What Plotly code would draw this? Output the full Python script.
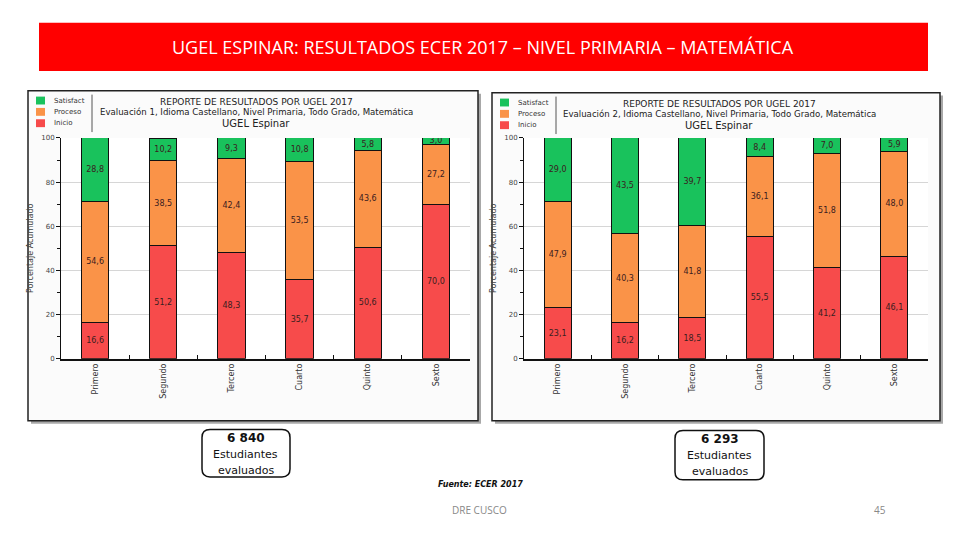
import plotly.graph_objects as go

grados = ["Primero", "Segundo", "Tercero", "Cuarto", "Quinto", "Sexto"]

# Evaluación 1
e1_inicio = [16.6, 51.2, 48.3, 35.7, 50.6, 70.0]
e1_proceso = [54.6, 38.5, 42.4, 53.5, 43.6, 27.2]
e1_satisf = [28.8, 10.2, 9.3, 10.8, 5.8, 3.0]

# Evaluación 2
e2_inicio = [23.1, 16.2, 18.5, 55.5, 41.2, 46.1]
e2_proceso = [47.9, 40.3, 41.8, 36.1, 51.8, 48.0]
e2_satisf = [29.0, 43.5, 39.7, 8.4, 7.0, 5.9]

series_names = ["Inicio", "Proceso", "Satisfactorio"]
legend_labels = ["Satisfact", "Proceso", "Inicio"]
colors = {"Inicio": "#f74b4b", "Proceso": "#fa9348", "Satisfactorio": "#19c25c"}

W, H = 960, 540


def px(x):
    return x / W


def py(y):
    return 1 - y / H


def fmt(v):
    return f"{v:.1f}".replace(".", ",")


def ann(x, y, text, size, color="#222", family="DejaVu Sans", xanchor="center"):
    return dict(xref="paper", yref="paper", x=px(x), y=py(y), text=text, showarrow=False,
                xanchor=xanchor, yanchor="middle",
                font=dict(family=family, size=size, color=color))


fig = go.Figure()

panels = [
    dict(xa="x", ya="y", data=[e1_inicio, e1_proceso, e1_satisf],
         dom_x=[61, 470], left=28, right=478, top=88, eval_n=1, cx=256),
    dict(xa="x2", ya="y2", data=[e2_inicio, e2_proceso, e2_satisf],
         dom_x=[524, 928], left=492, right=940, top=90, eval_n=2, cx=719),
]

shapes = []
annotations = []

# Title banner
shapes.append(dict(type="rect", xref="paper", yref="paper",
                   x0=px(39), x1=px(928), y0=py(68), y1=py(19),
                   fillcolor="#ff0000", line=dict(width=0), layer="below"))
annotations.append(ann(483, 44, "UGEL ESPINAR: RESULTADOS ECER 2017 – NIVEL PRIMARIA – MATEMÁTICA",
                       18, "white", "Open Sans"))

for p in panels:
    # shadow + panel
    shapes.append(dict(type="rect", xref="paper", yref="paper",
                       x0=px(p["left"] + 3), x1=px(p["right"] + 3),
                       y0=py(426), y1=py(p["top"] + 3),
                       fillcolor="#a8a8a8", line=dict(width=0), layer="below"))
    shapes.append(dict(type="rect", xref="paper", yref="paper",
                       x0=px(p["left"]), x1=px(p["right"]),
                       y0=py(423), y1=py(p["top"]),
                       fillcolor="#fbfbfb", line=dict(color="#222", width=1.5), layer="below"))
    # plot bg
    shapes.append(dict(type="rect", xref="paper", yref="paper",
                       x0=px(p["dom_x"][0]), x1=px(p["dom_x"][1]),
                       y0=py(360), y1=py(136),
                       fillcolor="white", line=dict(width=0), layer="below"))
    for name, vals in zip(series_names, p["data"]):
        fig.add_trace(go.Bar(
            x=grados, y=vals, name=name, xaxis=p["xa"], yaxis=p["ya"],
            marker=dict(color=colors[name], line=dict(color="#111", width=1)),
            width=0.4, text=[fmt(v) for v in vals], textposition="inside",
            insidetextanchor="middle", textangle=0,
            textfont=dict(family="DejaVu Sans", size=8, color="#3a2020"),
            showlegend=False, cliponaxis=True))
    # legend
    lx = p["left"] + 8
    for i, lab in enumerate(legend_labels):
        col = colors[["Satisfactorio", "Proceso", "Inicio"][i]]
        yy = p["top"] + 10 + i * 11.5
        shapes.append(dict(type="rect", xref="paper", yref="paper",
                           x0=px(lx), x1=px(lx + 9), y0=py(yy + 4), y1=py(yy - 4),
                           fillcolor=col, line=dict(width=0)))
        annotations.append(ann(lx + 16, yy, lab, 7, "#333", xanchor="left"))
    shapes.append(dict(type="line", xref="paper", yref="paper",
                       x0=px(p["left"] + 64), x1=px(p["left"] + 64),
                       y0=py(p["top"] + 4), y1=py(p["top"] + 42),
                       line=dict(color="#555", width=1)))
    # chart titles
    t = p["top"]
    annotations.append(ann(p["cx"], t + 11, "REPORTE DE RESULTADOS POR UGEL 2017", 9))
    annotations.append(ann(p["cx"], t + 22,
                           f"Evaluación {p['eval_n']}, Idioma Castellano, Nivel Primaria, Todo Grado, Matemática",
                           8.6))
    annotations.append(ann(p["cx"], t + 33, "UGEL Espinar", 10))

axis_common_x = dict(type="category", tickson="boundaries", ticks="inside", ticklen=4,
                     tickcolor="#111", showline=True, linecolor="#111", linewidth=1.5,
                     tickangle=-90, tickfont=dict(family="DejaVu Sans", size=8, color="#333"),
                     showgrid=False, fixedrange=True)
axis_common_y = dict(range=[0, 100], tickvals=[0, 20, 40, 60, 80, 100],
                     ticktext=["0", "20", "40", "60", "80", "100"],
                     ticks="outside", ticklen=4, tickcolor="#111",
                     showline=True, linecolor="#111", linewidth=1,
                     minor=dict(dtick=10, ticks="outside", ticklen=3, tickcolor="#111", showgrid=False),
                     showgrid=True, gridcolor="#d6d6d6", gridwidth=1,
                     zeroline=False,
                     tickfont=dict(family="DejaVu Sans", size=7, color="#444"),
                     title=dict(text="Porcentaje Acumulado",
                                font=dict(family="DejaVu Sans", size=8, color="#444"),
                                standoff=6),
                     fixedrange=True)

fig.update_layout(
    width=W, height=H, margin=dict(l=0, r=0, t=0, b=0),
    paper_bgcolor="white", plot_bgcolor="rgba(0,0,0,0)",
    barmode="stack", bargap=0.6,
    uniformtext=dict(minsize=8, mode="show"),
    xaxis=dict(domain=[px(61), px(470)], anchor="y", **axis_common_x),
    yaxis=dict(domain=[py(360), py(136)], anchor="x", **axis_common_y),
    xaxis2=dict(domain=[px(524), px(928)], anchor="y2", **axis_common_x),
    yaxis2=dict(domain=[py(360), py(136)], anchor="x2", **axis_common_y),
)


def rounded_box(x0, y0, x1, y1, r=8):
    X0, X1 = px(x0), px(x1)
    Y0, Y1 = py(y1), py(y0)
    rx, ry = r / W, r / H
    return (f"M {X0 + rx} {Y1} L {X1 - rx} {Y1} Q {X1} {Y1} {X1} {Y1 - ry} "
            f"L {X1} {Y0 + ry} Q {X1} {Y0} {X1 - rx} {Y0} L {X0 + rx} {Y0} "
            f"Q {X0} {Y0} {X0} {Y0 + ry} L {X0} {Y1 - ry} Q {X0} {Y1} {X0 + rx} {Y1} Z")


boxes = [(202, 432, 290, 480, "6 840"), (675, 433, 764, 483, "6 293")]
for x0, y0, x1, y1, n in boxes:
    shapes.append(dict(type="path", xref="paper", yref="paper", path=rounded_box(x0, y0, x1, y1),
                       fillcolor="white", line=dict(color="#111", width=1.5)))
    cx = (x0 + x1) / 2
    for j, txt in enumerate([f"<b>{n}</b>", "Estudiantes", "evaluados"]):
        annotations.append(ann(cx, y0 + 8.5 + j * 16.5, txt, 12 if j == 0 else 11, "#111"))

annotations.append(ann(480, 488, "<b><i>Fuente: ECER 2017</i></b>", 8, "#111"))
annotations.append(ann(479, 514, "DRE CUSCO", 10, "#888", "Open Sans"))
annotations.append(ann(880, 514, "45", 10, "#888", "Open Sans"))

fig.update_layout(shapes=shapes, annotations=annotations)
fig.write_html("out.html", config={"displayModeBar": False},
               post_script="document.body.style.margin='0';document.body.style.overflow='hidden';")
